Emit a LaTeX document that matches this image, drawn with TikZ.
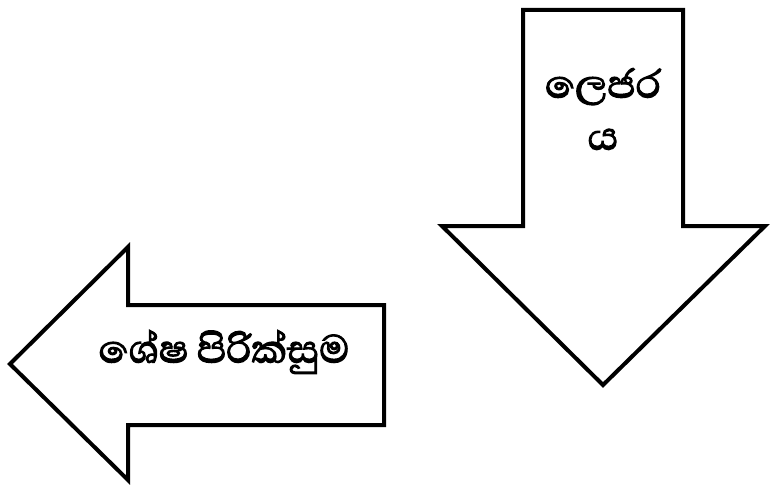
\documentclass[tikz,border=0pt]{standalone}
\usepackage{fontspec}
\newfontfamily\sinhala[Script=Sinhala, FakeBold=2.5]{Abhaya Libre}
\tikzset{
  arrowshape/.style={draw=black, line width=4pt, fill=white, line join=miter},
  lbl/.style={font=\sinhala\fontsize{50}{52}\selectfont, align=center, inner sep=0pt}
}
\begin{document}
\begin{tikzpicture}[x=1pt,y=-1pt]
\useasboundingbox (0,0) rectangle (770,484);
% down arrow
\draw[arrowshape] (523,10) -- (683,10) -- (683,226) -- (765,226) -- (603,385) -- (442,226) -- (523,226) -- cycle;
% left arrow
\draw[arrowshape] (384,305) -- (384,425) -- (128,425) -- (128,480) -- (10,364) -- (128,247) -- (128,305) -- cycle;
\node[lbl] (ledger) at (603,109) {ලෙජර\\ය};
\node[lbl] (trial) at (224,352) {ශේෂ පිරික්සුම};
\end{tikzpicture}
\end{document}
